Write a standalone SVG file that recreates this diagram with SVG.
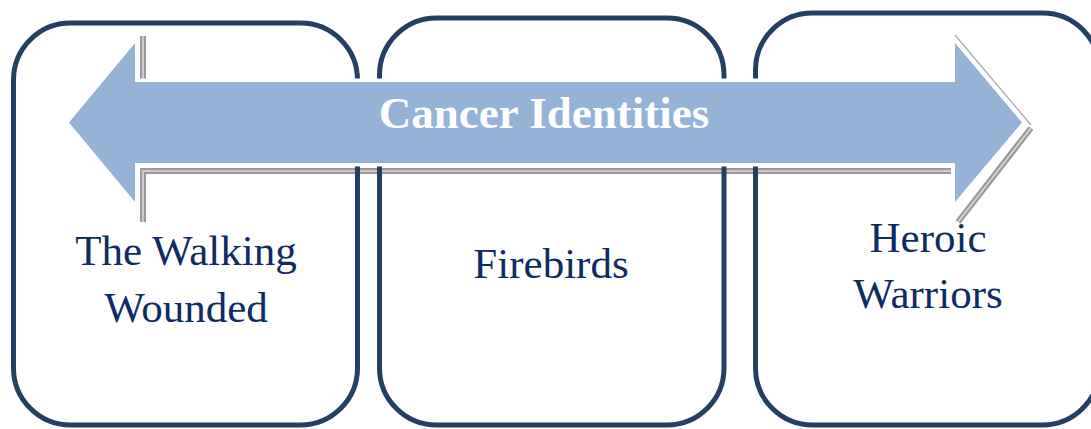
<svg xmlns="http://www.w3.org/2000/svg" width="1091" height="429" viewBox="0 0 1091 429">
<style>
.box{fill:none;stroke:#243f60;stroke-width:5}
.lbl{font-family:"Liberation Serif","Times New Roman",serif;font-size:43px;fill:#0f2b64;text-anchor:middle}
.title{font-family:"Liberation Serif","Times New Roman",serif;font-size:45px;font-weight:bold;fill:#ffffff;text-anchor:middle}
.sh{fill:none;stroke:#9a9a9a;stroke-width:6}
.shi{fill:none;stroke:#dcdcdc;stroke-width:1.5}
</style>
<rect width="1091" height="429" fill="#ffffff"/>
<g id="arrow-shadow">
<path class="sh" d="M143,86 L143,36 M143,222 L143,171 L951,171 M958,222 L1031,128"/>
<path class="shi" d="M143,86 L143,36 M143,222 L143,171 L951,171 M958,222 L1031,128"/>
<path d="M955,35 L1031,125" fill="none" stroke="#a6a6a6" stroke-width="1.2"/>
</g>
<g id="node-walking-wounded">
<rect class="box" x="13.5" y="23" width="344" height="402" rx="57" ry="57"/>
</g>
<g id="node-firebirds">
<rect class="box" x="379.5" y="18" width="344.5" height="407" rx="57" ry="57"/>
</g>
<g id="node-heroic-warriors">
<rect class="box" x="755.5" y="13" width="344" height="412" rx="57" ry="57"/>
</g>
<g id="arrow">
<polygon points="69,122.5 135,43 135,82 955,82 955,43 1022,122.5 955,202 955,163 135,163 135,202" fill="#95b3d7" stroke="#ffffff" stroke-width="7" stroke-linejoin="miter"/>
<polygon points="69,122.5 135,43 135,82 955,82 955,43 1022,122.5 955,202 955,163 135,163 135,202" fill="#95b3d7"/>
<text class="title" x="544" y="128">Cancer Identities</text>
</g>
<g id="labels">
<text class="lbl" x="186" y="265">The Walking</text>
<text class="lbl" x="186" y="322">Wounded</text>
<text class="lbl" x="551" y="278">Firebirds</text>
<text class="lbl" x="928" y="252">Heroic</text>
<text class="lbl" x="928" y="308">Warriors</text>
</g>
<g id="connectors"></g>
</svg>
